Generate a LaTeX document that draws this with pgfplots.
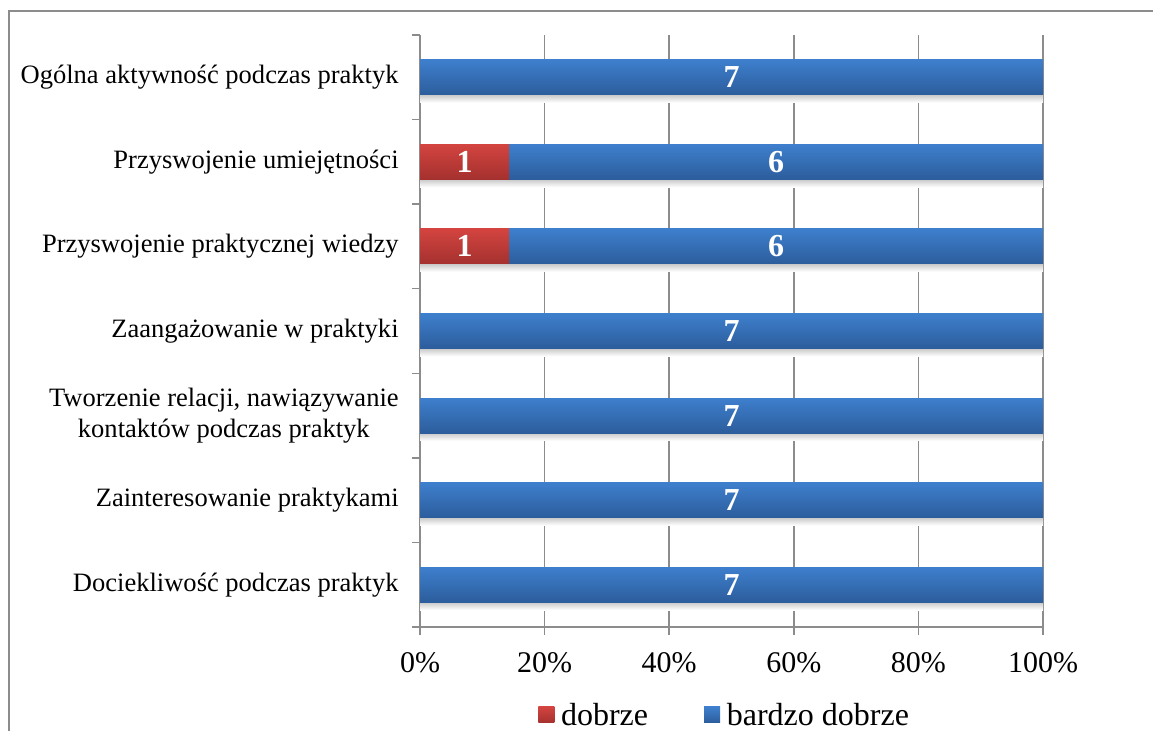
\documentclass[border=0pt]{standalone}
\usepackage{fontspec}
\setmainfont{Liberation Serif}
\usepackage{pgfplots}
\usepackage{pgfplotstable}
\pgfplotsset{compat=1.18}

\definecolor{blueT}{RGB}{62,127,205}
\definecolor{blueB}{RGB}{44,93,156}
\definecolor{redT}{RGB}{211,68,64}
\definecolor{redB}{RGB}{164,49,46}
\definecolor{gridgray}{RGB}{140,140,140}

% cumulative end of each bar in % (dobrze + bardzo dobrze = 7 of 7)
\pgfplotstableread{
y  v
0  100
1  100
2  100
3  100
4  100
5  100
6  100
}\tblall
% dobrze: 1 of 7
\pgfplotstableread{
y  v
4  14.2857
5  14.2857
}\tbldobrze
% counts shown in the middle of each segment
\pgfplotstableread{
x       y  lab
50      0  7
50      1  7
50      2  7
50      3  7
7.1429  4  1
57.1429 4  6
7.1429  5  1
57.1429 5  6
50      6  7
}\tbllab

\pgfplotsset{
  barbase/.style={xbar, bar width=26.25pt, bar shift=0pt, draw=none, forget plot},
  barshadow/.style={xbar, bar width=6pt, bar shift=-16pt, draw=none, forget plot,
    top color=black!22, bottom color=white},
}

\begin{document}
\begin{tikzpicture}[x=1pt,y=1pt]
\path[use as bounding box] (0,0) rectangle (864.75,548.25);
\draw[gridgray, line width=1.1pt] (6.75,0) -- (6.75,540) -- (864.75,540);
\begin{axis}[
  at={(315pt,78pt)}, anchor=south west,
  scale only axis, width=467.25pt, height=444pt,
  xmin=0, xmax=100, ymin=-0.5, ymax=6.5,
  axis x line=bottom, axis y line=left,
  axis line style={-, gridgray, line width=1.1pt},
  tick align=outside, major tick length=6pt,
  tick style={gridgray, line width=1.1pt},
  xmajorgrids, grid style={gridgray, line width=1.1pt},
  xtick={0,20,40,60,80,100},
  xticklabels={0\%,20\%,40\%,60\%,80\%,100\%},
  xticklabel style={font=\fontsize{22.5}{27}\selectfont, yshift=-9.5pt},
  ytick={-0.5,0.5,1.5,2.5,3.5,4.5,5.5,6.5},
  yticklabels={,,,,,,,},
  extra y ticks={0,1,2,3,4,5,6},
  extra y tick labels={Dociekliwość podczas praktyk,
    Zainteresowanie praktykami,
    {Tworzenie relacji, nawiązywanie\\kontaktów podczas praktyk},
    Zaangażowanie w praktyki,
    Przyswojenie praktycznej wiedzy,
    Przyswojenie umiejętności,
    Ogólna aktywność podczas praktyk},
  extra y tick style={major tick length=0pt},
  yticklabel style={font=\fontsize{19.9}{23.5}\selectfont, align=center, xshift=-12.5pt},
  legend image code/.code={\path[#1, draw=none] (0pt,-6pt) rectangle (12pt,6pt);},
  legend columns=2,
  legend style={at={(0.4896,-0.1486)}, anchor=center, draw=none,
    font=\fontsize{24}{28}\selectfont,
    /tikz/every odd column/.append style={column sep=3pt},
    /tikz/every even column/.append style={column sep=40pt}},
]
\addlegendimage{top color=redT, bottom color=redB}
\addlegendentry{dobrze}
\addlegendimage{top color=blueT, bottom color=blueB}
\addlegendentry{bardzo dobrze}

% one plot per bar, so each bar gets its own gradient
\pgfplotsinvokeforeach{0,...,6}{
  \addplot[barshadow, restrict y to domain=#1:#1]
    table[x=v,y=y] {\tblall};
  % bardzo dobrze (drawn full length, dobrze laid over it)
  \addplot[barbase, top color=blueT, bottom color=blueB,
    restrict y to domain=#1:#1] table[x=v,y=y] {\tblall};
}
\pgfplotsinvokeforeach{4,5}{
  \addplot[barbase, top color=redT, bottom color=redB,
    restrict y to domain=#1:#1] table[x=v,y=y] {\tbldobrze};
}

\addplot[draw=none, mark=none, forget plot, nodes near coords,
  point meta=explicit symbolic,
  nodes near coords style={anchor=center, text=white,
    font=\bfseries\fontsize{24}{28}\selectfont}]
  table[x=x,y=y,meta=lab] {\tbllab};
\end{axis}
\end{tikzpicture}
\end{document}
